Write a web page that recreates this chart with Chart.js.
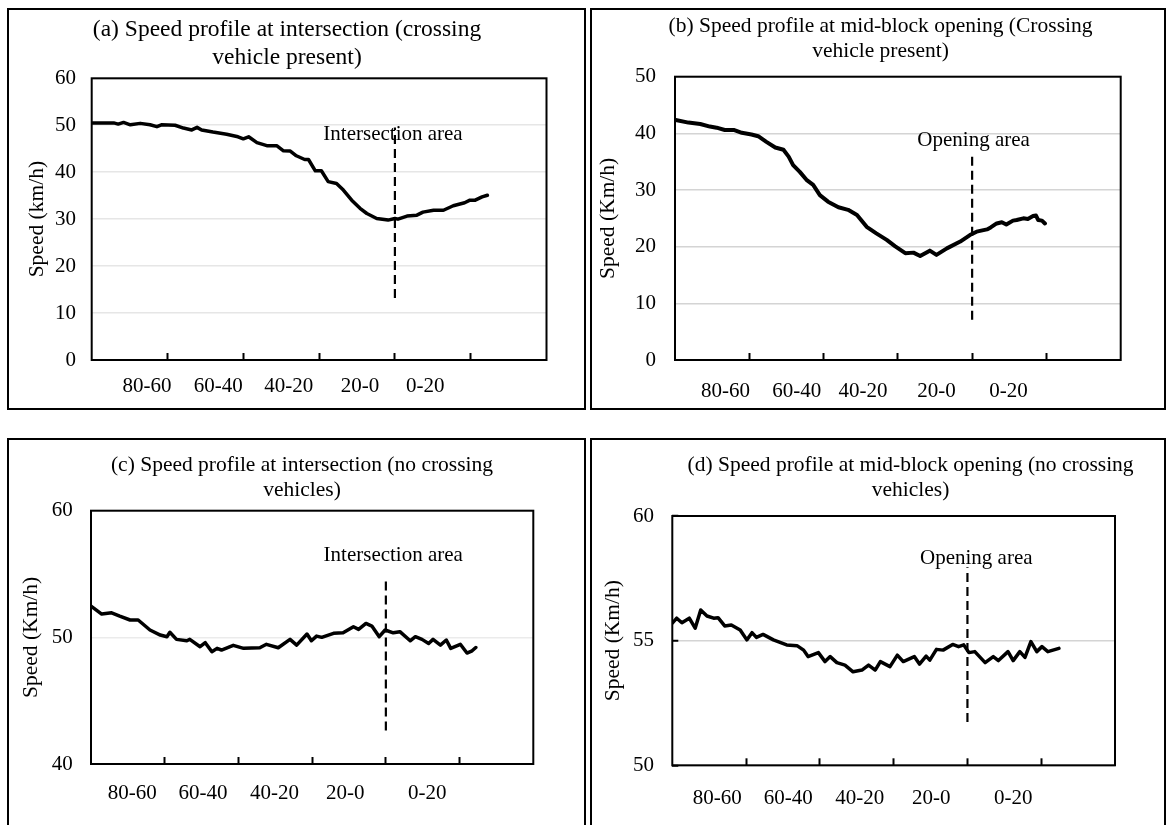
<!DOCTYPE html>
<html>
<head>
<meta charset="utf-8">
<title>Speed profiles</title>
<script src="https://cdn.jsdelivr.net/npm/chart.js@4.4.1/dist/chart.umd.min.js"></script>
<style>
  body { margin: 0; background: #fff; width: 1167px; height: 825px; overflow: hidden; position: relative; }
  .frame { position: absolute; box-sizing: border-box; border: 2px solid #000; }
  canvas { position: absolute; }
</style>
</head>
<body>
<canvas id="chartA"></canvas>
<canvas id="chartB"></canvas>
<canvas id="chartC"></canvas>
<canvas id="chartD"></canvas>
<script>
// distance bands shown under the x axis (same for all four panels)
var bandLabels = ['80-60', '60-40', '40-20', '20-0', '0-20'];
var tickMarks = [1, 2, 3, 4, 5];

// (a) intersection, crossing vehicle present
var aX = [0.01,0.29,0.35,0.42,0.51,0.64,0.77,0.86,0.92,1.10,1.21,1.32,1.39,1.45,1.60,1.78,1.93,2.00,2.07,2.18,2.31,2.44,2.53,2.62,2.70,2.81,2.86,2.95,3.03,3.12,3.23,3.32,3.43,3.54,3.63,3.76,3.91,4.00,4.04,4.16,4.29,4.37,4.51,4.64,4.77,4.92,4.99,5.06,5.15,5.22];
var aSpeed = [50.5,50.5,50.25,50.6,50.1,50.4,50.1,49.7,50.1,50.0,49.4,49.0,49.55,49.0,48.55,48.1,47.55,47.1,47.55,46.3,45.65,45.65,44.55,44.5,43.5,42.7,42.7,40.3,40.3,38.0,37.6,36.2,34.05,32.3,31.2,30.15,29.8,30.15,30.0,30.65,30.85,31.5,31.9,31.9,32.85,33.5,34.05,34.05,34.75,35.1];
var aMarker = [13.2, 49.5];
var aLabelAt = [0.73, 1.67, 2.60, 3.54, 4.40];

// (b) mid-block opening, crossing vehicle present
var bX = [0.01,0.18,0.34,0.47,0.56,0.67,0.79,0.90,1.03,1.12,1.23,1.35,1.46,1.53,1.59,1.68,1.77,1.86,1.95,2.06,2.20,2.33,2.45,2.58,2.71,2.85,2.96,3.10,3.21,3.30,3.43,3.52,3.66,3.84,3.97,4.06,4.20,4.25,4.33,4.40,4.46,4.55,4.60,4.69,4.75,4.82,4.86,4.89,4.94,4.98];
var bSpeed = [42.35,41.9,41.65,41.2,41.0,40.6,40.6,40.1,39.8,39.5,38.5,37.5,37.1,35.9,34.4,33.2,31.8,30.9,29.1,27.95,26.95,26.5,25.6,23.5,22.35,21.2,20.1,18.85,18.95,18.35,19.3,18.55,19.7,20.9,22.05,22.65,23.05,23.4,24.1,24.3,23.9,24.6,24.7,25.0,24.9,25.4,25.5,24.7,24.6,24.1];
var bMarker = [7.1, 36.6];
var bLabelAt = [0.68, 1.64, 2.53, 3.52, 4.49];

// (c) intersection, no crossing vehicles
var cX = [0,0.145,0.28,0.39,0.53,0.64,0.80,0.94,1.03,1.07,1.16,1.30,1.34,1.48,1.55,1.64,1.71,1.77,1.93,2.07,2.29,2.38,2.54,2.70,2.79,2.93,2.99,3.06,3.13,3.29,3.42,3.56,3.63,3.73,3.81,3.91,3.99,4.10,4.19,4.33,4.40,4.49,4.58,4.64,4.74,4.82,4.88,5.01,5.10,5.17,5.22];
var cSpeed = [52.47,51.84,51.94,51.68,51.37,51.37,50.58,50.18,50.05,50.4,49.84,49.73,49.84,49.26,49.58,48.86,49.13,49.0,49.37,49.13,49.18,49.45,49.18,49.84,49.39,50.26,49.73,50.1,50.0,50.32,50.36,50.84,50.63,51.1,50.89,50.05,50.58,50.36,50.45,49.73,50.05,49.84,49.52,49.84,49.39,49.79,49.13,49.45,48.76,48.94,49.2];
var cMarker = [42.65, 54.5];
var cLabelAt = [0.56, 1.52, 2.49, 3.45, 4.56];

// (d) mid-block opening, no crossing vehicles
var dX = [0,0.06,0.13,0.23,0.31,0.385,0.47,0.56,0.62,0.71,0.80,0.92,1.01,1.08,1.14,1.23,1.37,1.55,1.69,1.78,1.84,1.98,2.07,2.14,2.23,2.34,2.45,2.57,2.66,2.75,2.82,2.95,3.05,3.13,3.28,3.35,3.44,3.49,3.58,3.67,3.80,3.88,3.95,4.02,4.10,4.24,4.35,4.42,4.55,4.62,4.71,4.78,4.86,4.94,5.01,5.09,5.24];
var dSpeed = [55.70,55.9,55.72,55.9,55.5,56.23,55.99,55.9,55.92,55.59,55.63,55.43,55.03,55.32,55.13,55.25,55.03,54.83,54.8,54.62,54.36,54.52,54.16,54.36,54.12,54.02,53.75,53.82,54.02,53.82,54.16,53.96,54.42,54.16,54.36,54.06,54.38,54.22,54.65,54.62,54.85,54.76,54.83,54.52,54.56,54.12,54.36,54.2,54.56,54.2,54.56,54.33,54.96,54.56,54.76,54.56,54.69];
var dMarker = [51.74, 57.94];
var dLabelAt = [0.61, 1.57, 2.54, 3.51, 4.62];

var FONT = "'Liberation Serif', 'Times New Roman', serif";

function toPoints(xs, ys) {
  return xs.map(function (x, i) { return { x: x, y: ys[i] }; });
}

// frame round the plot area, panel heading and the area note
var decor = {
  id: 'decor',
  beforeDatasetsDraw: function (chart) {
    var a = chart.chartArea, ctx = chart.ctx;
    ctx.save();
    ctx.strokeStyle = '#000';
    ctx.lineWidth = 2;
    ctx.strokeRect(a.left, a.top, a.right - a.left, a.bottom - a.top);
    ctx.restore();
  },
  afterDraw: function (chart, args, opts) {
    var ctx = chart.ctx;
    ctx.save();
    ctx.fillStyle = '#000';
    ctx.textAlign = 'center';
    ctx.textBaseline = 'middle';
    ctx.font = opts.titleSize + 'px ' + FONT;
    opts.title.forEach(function (t, i) { ctx.fillText(t, opts.titleX, opts.titleY[i]); });
    ctx.font = '21px ' + FONT;
    ctx.fillText(opts.note, chart.scales.x.getPixelForValue(opts.noteAt[0]), chart.scales.y.getPixelForValue(opts.noteAt[1]));
    ctx.restore();
  }
};

function makePanel(id, p) {
  var g = p.geo;
  var frame = document.createElement('div');
  frame.className = 'frame';
  frame.style.left = g.box[0] + 'px';
  frame.style.top = g.box[1] + 'px';
  frame.style.width = (g.box[2] - g.box[0]) + 'px';
  frame.style.height = (g.box[3] - g.box[1]) + 'px';
  document.body.appendChild(frame);

  var canvas = document.getElementById(id);
  canvas.width = g.box[2] - g.box[0];
  canvas.height = g.box[3] - g.box[1];
  canvas.style.left = g.box[0] + 'px';
  canvas.style.top = g.box[1] + 'px';

  var tickFont = { family: FONT, size: 21, lineHeight: 1.2 };
  var xTicks = tickMarks.concat(p.labelAt).sort(function (m, n) { return m - n; });

  return new Chart(canvas, {
    type: 'line',
    data: {
      datasets: [{
        data: toPoints(p.xs, p.ys),
        borderColor: '#000',
        borderWidth: p.lineWidth,
        pointRadius: 0,
        tension: 0,
        borderJoinStyle: 'round',
        borderCapStyle: 'round'
      }, {
        data: toPoints([4, 4], p.marker),
        borderColor: '#000',
        borderWidth: 2.2,
        borderDash: [9, 5],
        pointRadius: 0
      }]
    },
    options: {
      responsive: false,
      animation: false,
      layout: {
        padding: { left: 0, top: g.area[1] - g.box[1], right: g.box[2] - g.area[2], bottom: 0 }
      },
      plugins: {
        legend: { display: false },
        tooltip: { enabled: false },
        decor: {
          title: p.title,
          titleSize: p.titleSize,
          titleX: g.titleX - g.box[0],
          titleY: g.titleY.map(function (y) { return y - g.box[1]; }),
          note: p.note,
          noteAt: p.noteAt
        }
      },
      scales: {
        x: {
          type: 'linear',
          min: 0,
          max: 6,
          weight: 0,
          afterBuildTicks: function (axis) {
            axis.ticks = xTicks.map(function (v) { return { value: v }; });
          },
          afterFit: function (axis) { axis.height = g.box[3] - g.area[3]; },
          border: { display: false },
          grid: {
            drawOnChartArea: false,
            drawTicks: true,
            tickLength: -7,
            tickWidth: 2,
            tickColor: function (c) {
              return tickMarks.indexOf(c.tick.value) >= 0 ? '#000' : 'rgba(0,0,0,0)';
            }
          },
          ticks: {
            autoSkip: false,
            maxRotation: 0,
            color: '#000',
            font: tickFont,
            padding: g.xLabelY - g.area[3] + 7 - 12.6,
            callback: function (v) {
              var i = p.labelAt.indexOf(v);
              return i >= 0 ? bandLabels[i] : '';
            }
          }
        },
        y: {
          min: p.yMin,
          max: p.yMax,
          afterFit: function (axis) { axis.width = g.area[0] - g.box[0]; },
          border: { display: false },
          grid: {
            color: p.gridColor,
            lineWidth: 1.5,
            drawTicks: p.yTickMark,
            tickLength: -6,
            tickColor: '#000',
            tickWidth: 2
          },
          ticks: {
            stepSize: p.yStep,
            color: '#000',
            font: tickFont,
            padding: g.area[0] - g.yTickRight + (p.yTickMark ? 6 : 0)
          },
          title: {
            display: true,
            text: p.yTitle,
            color: '#000',
            font: { family: FONT, size: 21.5, lineHeight: 1.2 },
            padding: { top: g.yTitleX - g.box[0] - 12.9, bottom: 0 }
          }
        }
      }
    },
    plugins: [decor]
  });
}

makePanel('chartA', {
  geo: { box: [7, 8, 586, 410], area: [91.7, 78.3, 546.5, 360], titleX: 287, titleY: [30, 58.3], yTitleX: 37, yTickRight: 76, xLabelY: 386.7 },
  title: ['(a) Speed profile at intersection (crossing', 'vehicle present)'], titleSize: 23.5,
  xs: aX, ys: aSpeed, marker: aMarker, labelAt: aLabelAt,
  yMin: 0, yMax: 60, yStep: 10, yTitle: 'Speed (km/h)', yTickMark: false,
  gridColor: '#e6e6e6', lineWidth: 3.5,
  note: 'Intersection area', noteAt: [3.975, 48.1]
});

makePanel('chartB', {
  geo: { box: [590, 8, 1166, 410], area: [675, 76.7, 1120.7, 360], titleX: 880.5, titleY: [26.7, 51.7], yTitleX: 608, yTickRight: 656, xLabelY: 391.7 },
  title: ['(b) Speed profile at mid-block opening (Crossing', 'vehicle present)'], titleSize: 21.5,
  xs: bX, ys: bSpeed, marker: bMarker, labelAt: bLabelAt,
  yMin: 0, yMax: 50, yStep: 10, yTitle: 'Speed (Km/h)', yTickMark: false,
  gridColor: '#d4d4d4', lineWidth: 4,
  note: 'Opening area', noteAt: [4.02, 38.8]
});

makePanel('chartC', {
  geo: { box: [7, 438, 586, 832], area: [91, 510.7, 533.3, 764], titleX: 302, titleY: [465.3, 490.3], yTitleX: 31.7, yTickRight: 72.8, xLabelY: 793.7 },
  title: ['(c) Speed profile at intersection (no crossing', 'vehicles)'], titleSize: 21.5,
  xs: cX, ys: cSpeed, marker: cMarker, labelAt: cLabelAt,
  yMin: 40, yMax: 60, yStep: 10, yTitle: 'Speed (Km/h)', yTickMark: false,
  gridColor: '#ebebeb', lineWidth: 3.5,
  note: 'Intersection area', noteAt: [4.10, 56.5]
});

makePanel('chartD', {
  geo: { box: [590, 438, 1166, 832], area: [672.3, 516, 1115, 765.3], titleX: 910.6, titleY: [465.3, 490.3], yTitleX: 613, yTickRight: 654, xLabelY: 798.7 },
  title: ['(d) Speed profile at mid-block opening (no crossing', 'vehicles)'], titleSize: 21.5,
  xs: dX, ys: dSpeed, marker: dMarker, labelAt: dLabelAt,
  yMin: 50, yMax: 60, yStep: 5, yTitle: 'Speed (Km/h)', yTickMark: true,
  gridColor: '#d4d4d4', lineWidth: 3.5,
  note: 'Opening area', noteAt: [4.12, 58.3]
});
</script>
</body>
</html>
